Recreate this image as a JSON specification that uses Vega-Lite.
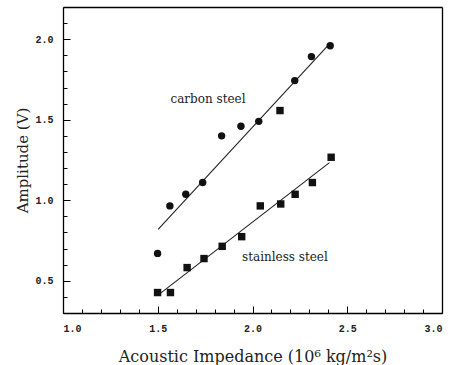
{
  "$schema": "https://vega.github.io/schema/vega-lite/v6.json",
  "width": 379,
  "height": 306,
  "autosize": "none",
  "padding": {"left": 63, "top": 7, "right": 9, "bottom": 52},
  "config": {
    "view": {"stroke": null},
    "axis": {"grid": false, "domainColor": "black", "domainWidth": 1.3, "tickColor": "black", "labelColor": "#222", "titleColor": "#222", "labelFont": "Liberation Mono", "titleFont": "DejaVu Serif", "labelFontWeight": "bold", "titleFontWeight": "normal"}
  },
  "datasets": {
    "pts": [
      {"series": "carbon steel", "marker": "circle", "impedance": 1.499, "amplitude": 0.67},
      {"series": "carbon steel", "marker": "circle", "impedance": 1.564, "amplitude": 0.965},
      {"series": "carbon steel", "marker": "circle", "impedance": 1.648, "amplitude": 1.037},
      {"series": "carbon steel", "marker": "circle", "impedance": 1.737, "amplitude": 1.11},
      {"series": "carbon steel", "marker": "circle", "impedance": 1.837, "amplitude": 1.40},
      {"series": "carbon steel", "marker": "circle", "impedance": 1.939, "amplitude": 1.46},
      {"series": "carbon steel", "marker": "circle", "impedance": 2.033, "amplitude": 1.49},
      {"series": "carbon steel", "marker": "square", "impedance": 2.145, "amplitude": 1.557},
      {"series": "carbon steel", "marker": "circle", "impedance": 2.223, "amplitude": 1.743},
      {"series": "carbon steel", "marker": "circle", "impedance": 2.311, "amplitude": 1.892},
      {"series": "carbon steel", "marker": "circle", "impedance": 2.41, "amplitude": 1.959},
      {"series": "stainless steel", "marker": "square", "impedance": 1.499, "amplitude": 0.427},
      {"series": "stainless steel", "marker": "square", "impedance": 1.567, "amplitude": 0.427},
      {"series": "stainless steel", "marker": "square", "impedance": 1.655, "amplitude": 0.582},
      {"series": "stainless steel", "marker": "square", "impedance": 1.744, "amplitude": 0.638},
      {"series": "stainless steel", "marker": "square", "impedance": 1.84, "amplitude": 0.714},
      {"series": "stainless steel", "marker": "square", "impedance": 1.943, "amplitude": 0.774},
      {"series": "stainless steel", "marker": "square", "impedance": 2.041, "amplitude": 0.965},
      {"series": "stainless steel", "marker": "square", "impedance": 2.149, "amplitude": 0.977},
      {"series": "stainless steel", "marker": "square", "impedance": 2.225, "amplitude": 1.037},
      {"series": "stainless steel", "marker": "square", "impedance": 2.316, "amplitude": 1.11},
      {"series": "stainless steel", "marker": "square", "impedance": 2.415, "amplitude": 1.267}
    ],
    "fits": [
      {"series": "carbon steel", "impedance": 1.502, "amplitude": 0.82},
      {"series": "carbon steel", "impedance": 2.405, "amplitude": 1.97},
      {"series": "stainless steel", "impedance": 1.507, "amplitude": 0.416},
      {"series": "stainless steel", "impedance": 2.406, "amplitude": 1.234}
    ],
    "labels": [
      {"text": "carbon steel", "impedance": 1.765, "amplitude": 1.629},
      {"text": "stainless steel", "impedance": 2.171, "amplitude": 0.648}
    ]
  },
  "layer": [
    {
      "data": {"name": "fits"},
      "mark": {"type": "line", "color": "#222", "strokeWidth": 1.1},
      "encoding": {
        "x": {"field": "impedance", "type": "quantitative", "scale": {"domain": [1.0, 3.0], "nice": false, "zero": false},
          "axis": {"orient": "bottom", "tickCount": 4, "format": ".1f", "tickSize": -7, "tickWidth": 1, "labelPadding": 17, "labelFontSize": 10, "labelOverlap": false, "title": "Acoustic Impedance (10⁶ kg/m²s)", "titleFontSize": 16, "titleY": 48, "titleBaseline": "alphabetic"}},
        "y": {"field": "amplitude", "type": "quantitative", "scale": {"domain": [0.3, 2.2], "nice": false, "zero": false},
          "axis": {"orient": "left", "tickCount": 4, "format": ".1f", "tickSize": -7, "tickWidth": 1, "labelPadding": 17, "labelFontSize": 10, "labelOverlap": false, "title": "Amplitude (V)", "titleFontSize": 15, "titleX": -41, "titleAngle": -90, "titleBaseline": "middle"}},
        "detail": {"field": "series", "type": "nominal"}
      }
    },
    {
      "data": {"name": "pts"},
      "mark": {"type": "point", "filled": true, "color": "#111", "opacity": 1, "size": 55},
      "encoding": {
        "x": {"field": "impedance", "type": "quantitative",
          "axis": {"orient": "bottom", "domain": false, "tickCount": 20, "labels": false, "tickSize": -4, "tickWidth": 1, "title": null}},
        "y": {"field": "amplitude", "type": "quantitative",
          "axis": {"orient": "left", "domain": false, "tickCount": 19, "labels": false, "tickSize": -4, "tickWidth": 1, "title": null}},
        "shape": {"field": "marker", "type": "nominal", "scale": {"domain": ["circle", "square"], "range": ["circle", "square"]}, "legend": null}
      }
    },
    {
      "data": {"name": "labels"},
      "mark": {"type": "text", "font": "DejaVu Serif", "fontSize": 12, "color": "#222", "align": "center", "baseline": "middle"},
      "encoding": {
        "x": {"field": "impedance", "type": "quantitative", "axis": {"orient": "top", "ticks": false, "labels": false, "title": null}},
        "y": {"field": "amplitude", "type": "quantitative", "axis": {"orient": "right", "ticks": false, "labels": false, "title": null}},
        "text": {"field": "text"}
      }
    }
  ],
  "resolve": {"axis": {"x": "independent", "y": "independent"}}
}
